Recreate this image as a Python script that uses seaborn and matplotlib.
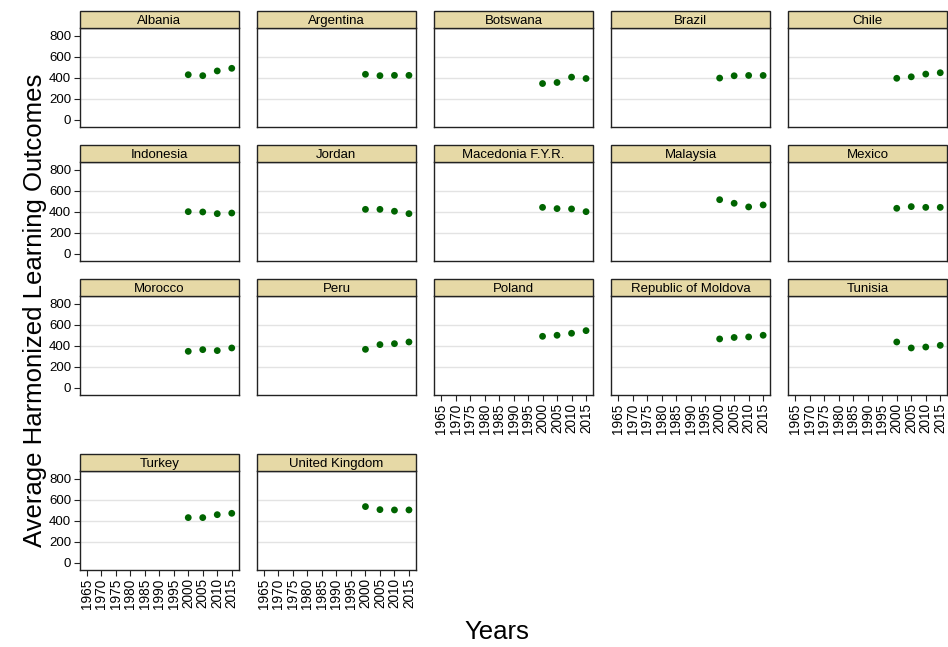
import matplotlib
matplotlib.use("Agg")
import matplotlib.pyplot as plt
import seaborn as sns
import pandas as pd
from matplotlib.patches import Rectangle

sns.set_style("white")
plt.rcParams['font.family'] = ['Liberation Sans', 'DejaVu Sans']
plt.rcParams['text.color'] = 'black'
plt.rcParams['xtick.color'] = 'black'
plt.rcParams['ytick.color'] = 'black'
plt.rcParams['xtick.labelcolor'] = 'black'
plt.rcParams['ytick.labelcolor'] = 'black'

countries = ["Albania", "Argentina", "Botswana", "Brazil", "Chile",
             "Indonesia", "Jordan", "Macedonia F.Y.R.", "Malaysia", "Mexico",
             "Morocco", "Peru", "Poland", "Republic of Moldova", "Tunisia",
             "Turkey", "United Kingdom"]
years = [2000, 2005, 2010, 2015]
scores = {
    "Albania": [431, 422, 467, 492],
    "Argentina": [435, 422, 425, 425],
    "Botswana": [347, 357, 408, 395],
    "Brazil": [399, 421, 424, 424],
    "Chile": [397, 411, 437, 450],
    "Indonesia": [403, 400, 384, 390],
    "Jordan": [425, 425, 407, 384],
    "Macedonia F.Y.R.": [444, 432, 429, 403],
    "Malaysia": [517, 483, 448, 467],
    "Mexico": [435, 451, 444, 444],
    "Morocco": [349, 365, 356, 381],
    "Peru": [368, 413, 422, 438],
    "Poland": [492, 502, 521, 546],
    "Republic of Moldova": [467, 481, 486, 502],
    "Tunisia": [438, 381, 390, 406],
    "Turkey": [432, 432, 460, 473],
    "United Kingdom": [537, 508, 505, 505],
}
x_ticks = list(range(1965, 2016, 5))
y_ticks = [0, 200, 400, 600, 800]

rows = []
for c in countries:
    for y, v in zip(years, scores[c]):
        rows.append({"country": c, "year": y, "score": v})
df = pd.DataFrame(rows)

W, H = 948, 647
fig = plt.figure(figsize=(W / 100, H / 100), dpi=100)

col_left = [79.5, 256.7, 433.8, 610.9, 788.0]
pw = 159.5
plot_tops = [28, 162, 296, 471]
ph = 99
strip_h = 17
ncol = 5

for i, c in enumerate(countries):
    r, k = divmod(i, ncol)
    left = col_left[k]
    top = plot_tops[r]
    ax = fig.add_axes([left / W, 1 - (top + ph) / H, pw / W, ph / H])
    sub = df[df["country"] == c]
    sns.scatterplot(data=sub, x="year", y="score", ax=ax, color="#006400",
                    s=24, edgecolor="none", zorder=3)
    ax.set_xlim(1962.5, 2017.5)
    ax.set_ylim(-67, 876)
    ax.set_xticks(x_ticks)
    ax.set_yticks(y_ticks)
    ax.set_xlabel("")
    ax.set_ylabel("")
    ax.yaxis.grid(True, color="#e3e3e3", linewidth=1)
    gl = ax.get_ygridlines()
    gl[0].set_visible(False)
    gl[-1].set_visible(False)
    for sp in ax.spines.values():
        sp.set_color("#222222")
        sp.set_linewidth(1)
    show_x = (r == 3) or (r == 2 and k >= 2)
    show_y = (k == 0)
    ax.tick_params(axis="x", which="both", bottom=show_x, labelbottom=show_x,
                   direction="out", length=4, width=0.8, color="#222222",
                   labelsize=9.8, labelrotation=90, pad=2)
    ax.tick_params(axis="y", which="both", left=show_y, labelleft=show_y,
                   direction="out", length=4, width=0.8, color="#222222",
                   labelsize=9.5, pad=2)
    rect = Rectangle((0, 1), 1, strip_h / ph, transform=ax.transAxes,
                     facecolor="#E6D9A6", edgecolor="#222222", linewidth=1,
                     clip_on=False, zorder=5)
    ax.add_patch(rect)
    ax.text(0.5, 1 + (strip_h / 2) / ph, c, transform=ax.transAxes,
            ha="center", va="center_baseline", fontsize=9.5, color="black",
            zorder=6)

fig.text(35 / W, 1 - 310 / H, "Average Harmonized Learning Outcomes",
         rotation=90, ha="center", va="center", fontsize=18.5, color="black")
fig.text(497 / W, 1 - 632 / H, "Years", ha="center", va="center",
         fontsize=18.5, color="black")

fig.savefig("out.png", dpi=100, facecolor="white")
